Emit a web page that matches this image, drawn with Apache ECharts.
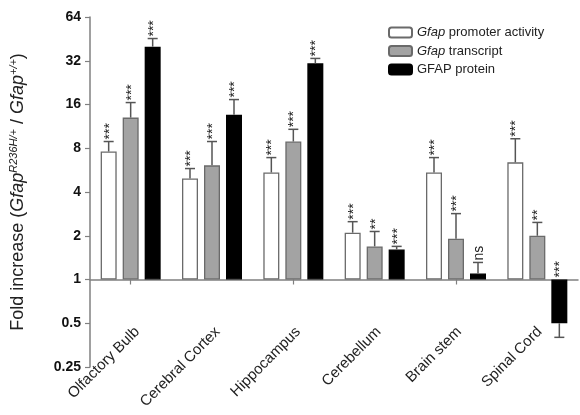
<!DOCTYPE html>
<html>
<head>
<meta charset="utf-8">
<script src="https://cdn.jsdelivr.net/npm/echarts@6/dist/echarts.min.js"></script>
<style>html,body{margin:0;padding:0;background:#fff;}#c{width:580px;height:415px;}</style>
</head>
<body>
<div id="c"></div>
<script>
var categories = ['Olfactory Bulb', 'Cerebral Cortex', 'Hippocampus', 'Cerebellum', 'Brain stem', 'Spinal Cord'];
var seriesNames = ['Gfap promoter activity', 'Gfap transcript', 'GFAP protein'];
var promoter = [7.6, 4.95, 5.45, 2.1, 5.45, 6.4];
var promoterErr = [8.9, 5.8, 6.9, 2.5, 6.9, 9.3];
var transcript = [13.0, 6.1, 8.9, 1.69, 1.91, 2.0];
var transcriptErr = [16.5, 8.9, 10.8, 2.14, 2.84, 2.47];
var protein = [40, 13.6, 30.7, 1.61, 1.1, 0.5];
var proteinErr = [45.5, 17.3, 33.2, 1.69, 1.31, 0.4];
var promoterSig = ['***', '***', '***', '***', '***', '***'];
var transcriptSig = ['***', '***', '***', '**', '***', '**'];
var proteinSig = ['***', '***', '***', '***', 'ns', '***'];
var yTicks = [0.25, 0.5, 1, 2, 4, 8, 16, 32, 64];
var yTickLabels = ['0.25', '0.5', '1', '2', '4', '8', '16', '32', '64'];

var FONT = 'Liberation Sans, Arial, sans-serif';
var vals = [promoter, transcript, protein];
var errs = [promoterErr, transcriptErr, proteinErr];
var sigs = [promoterSig, transcriptSig, proteinSig];
var fills = ['#ffffff', '#a3a3a3', '#000000'];
var borders = ['#6a6a6a', '#6a6a6a', '#000000'];

var errItems = [];
for (var s = 0; s < 3; s++) {
  for (var i = 0; i < categories.length; i++) {
    errItems.push({ value: [i, vals[s][i], errs[s][i], s], sig: sigs[s][i] });
  }
}

var chart = echarts.init(document.getElementById('c'), null, { renderer: 'canvas' });

var barSeries = seriesNames.map(function (name, s) {
  return {
    name: name,
    type: 'bar',
    xAxisIndex: 0,
    yAxisIndex: 0,
    data: vals[s],
    barWidth: 16,
    barGap: '37.5%',
    itemStyle: { color: fills[s], borderColor: borders[s], borderWidth: 1.3 },
    z: 2
  };
});

var option = {
  animation: false,
  backgroundColor: '#fff',
  textStyle: { fontFamily: FONT },
  grid: [
    { left: 87, right: 2, top: 17, bottom: 48, containLabel: false },
    { left: 97, right: -8, top: 17, bottom: 48, containLabel: false }
  ],
  legend: {
    orient: 'vertical',
    left: 383,
    top: 21,
    itemWidth: 23,
    itemHeight: 10,
    itemGap: 5.5,
    data: seriesNames,
    formatter: function (n) {
      if (n.indexOf('Gfap ') === 0) return '{i|Gfap}' + n.substring(4);
      return n;
    },
    textStyle: {
      fontFamily: FONT, fontSize: 13, color: '#222',
      rich: { i: { fontFamily: FONT, fontSize: 13, fontStyle: 'italic', color: '#222' } }
    }
  },
  xAxis: [
    {
      type: 'category', gridIndex: 0, data: categories, position: 'bottom', offset: -87.5,
      axisLine: { show: true, lineStyle: { color: '#808080', width: 1.5 } },
      axisTick: { show: true, alignWithLabel: true, length: 5, lineStyle: { color: '#808080', width: 1.2 } },
      axisLabel: { show: false }
    },
    {
      type: 'category', gridIndex: 1, data: categories, position: 'bottom', offset: -87.5,
      axisLine: { show: false }, axisTick: { show: false },
      axisLabel: { show: true, rotate: 45, margin: 50, fontSize: 15, color: '#222', fontFamily: FONT, interval: 0 }
    }
  ],
  yAxis: [
    {
      type: 'log', gridIndex: 0, logBase: 2, min: yTicks[0], max: yTicks[yTicks.length - 1], interval: 1,
      axisLine: { show: true, lineStyle: { color: '#808080', width: 1.5 } },
      axisTick: { show: true, length: 5, lineStyle: { color: '#808080', width: 1.2 } },
      splitLine: { show: false },
      axisLabel: {
        fontSize: 14, fontWeight: 'bold', color: '#111', margin: 9, fontFamily: FONT,
        formatter: function (v) {
          var best = 0, bd = Infinity;
          for (var k = 0; k < yTicks.length; k++) {
            var d = Math.abs(Math.log(v) - Math.log(yTicks[k]));
            if (d < bd) { bd = d; best = k; }
          }
          return yTickLabels[best];
        }
      },
      name: '{n|Fold increase (}{i|Gfap}{s|R236H/+}{n| / }{i|Gfap}{s|+/+}{n|)}',
      nameLocation: 'middle',
      nameRotate: 90,
      nameGap: 62,
      nameTextStyle: {
        rich: {
          n: { fontFamily: FONT, fontSize: 18, color: '#222' },
          i: { fontFamily: FONT, fontSize: 18, fontStyle: 'italic', color: '#222' },
          s: { fontFamily: FONT, fontSize: 11, fontStyle: 'italic', color: '#222', verticalAlign: 'top', padding: [0, 0, 9, 0] }
        }
      }
    },
    {
      type: 'value', gridIndex: 1, show: false
    }
  ],
  series: barSeries.concat([
    {
      type: 'custom',
      xAxisIndex: 0,
      yAxisIndex: 0,
      clip: false,
      z: 5,
      data: errItems.map(function (d) { return d.value; }),
      renderItem: function (params, api) {
        var cat = api.value(0), v = api.value(1), e = api.value(2), s = api.value(3);
        var p0 = api.coord([cat, v]);
        var p1 = api.coord([cat, e]);
        var x = p0[0] + (s - 1) * 22;
        var base = api.coord([cat, 1])[1];
        var sig = errItems[params.dataIndex].sig;
        var ty = e >= v ? p1[1] - 2 : base - 2;
        var isNs = sig === 'ns';
        return {
          type: 'group',
          children: [
            { type: 'line', shape: { x1: x, y1: p0[1], x2: x, y2: p1[1] }, style: { stroke: '#555', lineWidth: 1.5 } },
            { type: 'line', shape: { x1: x - 5, y1: p1[1], x2: x + 5, y2: p1[1] }, style: { stroke: '#555', lineWidth: 1.5 } },
            {
              type: 'text', x: x + 1, y: ty, rotation: Math.PI / 2,
              style: {
                text: sig, fill: '#222', align: 'left', verticalAlign: 'middle',
                font: (isNs ? '14px ' : '14px ') + FONT
              }
            }
          ]
        };
      }
    }
  ])
};
chart.setOption(option);
</script>
</body>
</html>
